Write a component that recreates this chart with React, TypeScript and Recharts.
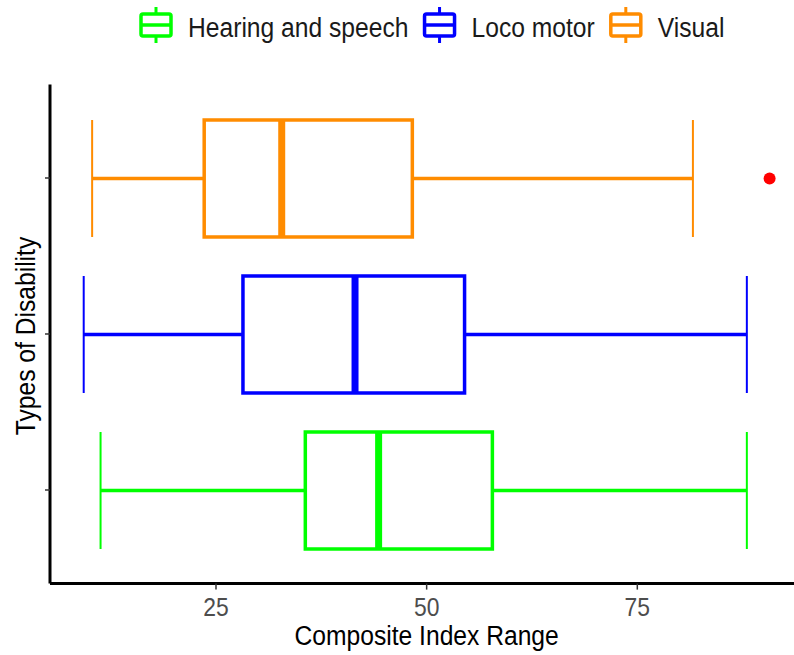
import React from "react";
import { ComposedChart, Bar, XAxis, YAxis, Legend } from "recharts";

// Box plot summary per disability type (top to bottom)
const categories = ["Visual", "Loco motor", "Hearing and speech"];
const lowerWhisker = [10.3, 9.3, 11.3];
const firstQuartile = [23.6, 28.2, 35.6];
const medians = [32.8, 41.5, 44.3];
const thirdQuartile = [48.3, 54.5, 57.8];
const upperWhisker = [81.6, 88.0, 88.0];
const outliers: number[][] = [[90.7], [], []];
const boxColors = ["#FF8C00", "#0000FF", "#00FF00"];

const legendOrder = ["Hearing and speech", "Loco motor", "Visual"];
const xTicks = [25, 50, 75];

const FONT = "'Liberation Sans', Arial, sans-serif";
// condensed look: horizontally squeezed Liberation Sans
const SQUEEZE = 0.88;

const rows = categories.map((name, i) => ({
  name,
  lower: lowerWhisker[i],
  q1: firstQuartile[i],
  median: medians[i],
  q3: thirdQuartile[i],
  upper: upperWhisker[i],
  outliers: outliers[i],
  color: boxColors[i],
  box: [firstQuartile[i], thirdQuartile[i]],
}));

let measureCtx: CanvasRenderingContext2D | null = null;
function textWidth(text: string, size: number) {
  if (!measureCtx) measureCtx = document.createElement("canvas").getContext("2d");
  if (!measureCtx) return text.length * size * 0.5;
  measureCtx.font = `${size}px 'Liberation Sans'`;
  return measureCtx.measureText(text).width * SQUEEZE;
}

function BoxShape(props: any) {
  const { x, y, width, height, payload } = props;
  const ppu = width / (payload.q3 - payload.q1);
  const toX = (v: number) => x + (v - payload.q1) * ppu;
  const cy = y + height / 2;
  const c = payload.color;
  return (
    <g>
      <line x1={toX(payload.lower)} x2={x} y1={cy} y2={cy} stroke={c} strokeWidth={3.5} />
      <line x1={x + width} x2={toX(payload.upper)} y1={cy} y2={cy} stroke={c} strokeWidth={3.5} />
      <line x1={toX(payload.lower)} x2={toX(payload.lower)} y1={y} y2={y + height} stroke={c} strokeWidth={2} />
      <line x1={toX(payload.upper)} x2={toX(payload.upper)} y1={y} y2={y + height} stroke={c} strokeWidth={2} />
      <rect x={x} y={y} width={width} height={height} fill="#fff" stroke={c} strokeWidth={3.5} />
      <line x1={toX(payload.median)} x2={toX(payload.median)} y1={y} y2={y + height} stroke={c} strokeWidth={7} />
      {payload.outliers.map((o: number) => (
        <circle key={o} cx={toX(o)} cy={cy} r={6} fill="#FF0000" />
      ))}
    </g>
  );
}

function SqueezedText({ x, y, size, fill, anchor, rotate = 0, dy, children }: any) {
  return (
    <text
      transform={`translate(${x},${y}) rotate(${rotate}) scale(${SQUEEZE},1)`}
      textAnchor={anchor}
      fontFamily={FONT}
      fontSize={size}
      fill={fill}
      dy={dy}
    >
      {children}
    </text>
  );
}

function LegendContent() {
  const items: React.ReactNode[] = [];
  let cursor = 139;
  legendOrder.forEach((name) => {
    const color = boxColors[categories.indexOf(name)];
    const ix = cursor;
    items.push(
      <g key={name}>
        <line x1={ix + 17} x2={ix + 17} y1={7} y2={43} stroke={color} strokeWidth={3} />
        <rect x={ix + 2} y={14} width={30} height={22} rx={2} fill="#fff" stroke={color} strokeWidth={3.5} />
        <line x1={ix + 2} x2={ix + 32} y1={25} y2={25} stroke={color} strokeWidth={3.5} />
        <SqueezedText x={ix + 49} y={37} size={28} fill="#1a1a1a" anchor="start">
          {name}
        </SqueezedText>
      </g>
    );
    cursor = ix + 49 + textWidth(name, 28) + 14;
  });
  return (
    <svg width={794} height={84.4} style={{ display: "block" }}>
      {items}
    </svg>
  );
}

function XTick(props: any) {
  const { x, y, payload } = props;
  return (
    <SqueezedText x={x} y={y} size={26} fill="#4D4D4D" anchor="middle" dy="0.71em">
      {payload.value}
    </SqueezedText>
  );
}

function XTitle(props: any) {
  const { viewBox } = props;
  return (
    <SqueezedText x={viewBox.x + viewBox.width / 2} y={viewBox.y + 61} size={28} fill="#000" anchor="middle">
      Composite Index Range
    </SqueezedText>
  );
}

function YTitle(props: any) {
  const { viewBox } = props;
  return (
    <SqueezedText
      x={viewBox.x + 35}
      y={viewBox.y + viewBox.height / 2 + 2}
      size={28}
      fill="#000"
      anchor="middle"
      rotate={-90}
    >
      Types of Disability
    </SqueezedText>
  );
}

const noLabel = () => <g />;

export default function App() {
  return (
    <div style={{ position: "fixed", left: 0, top: 0, width: 794, height: 655, overflow: "hidden", background: "#fff" }}>
      <ComposedChart
        width={810}
        height={655}
        data={rows}
        layout="vertical"
        margin={{ top: 0, right: 6.7, bottom: 0, left: 0 }}
      >
        <Legend verticalAlign="top" wrapperStyle={{ top: 0, left: 0 }} content={() => <LegendContent />} />
        <XAxis
          type="number"
          domain={[5.3, 94.7]}
          ticks={xTicks}
          allowDataOverflow
          height={71.4}
          axisLine={{ stroke: "#000", strokeWidth: 3 }}
          tickLine={{ stroke: "#333", strokeWidth: 1.5 }}
          tickSize={6}
          tickMargin={8}
          tick={XTick}
          label={XTitle}
        />
        <YAxis
          type="category"
          dataKey="name"
          width={50}
          padding={{ top: 15.6, bottom: 15.6 }}
          axisLine={{ stroke: "#000", strokeWidth: 3 }}
          tickLine={{ stroke: "#333", strokeWidth: 1.5 }}
          tickSize={5}
          tick={noLabel}
          label={YTitle}
        />
        <Bar dataKey="box" barSize={117} shape={BoxShape} isAnimationActive={false} />
      </ComposedChart>
    </div>
  );
}
